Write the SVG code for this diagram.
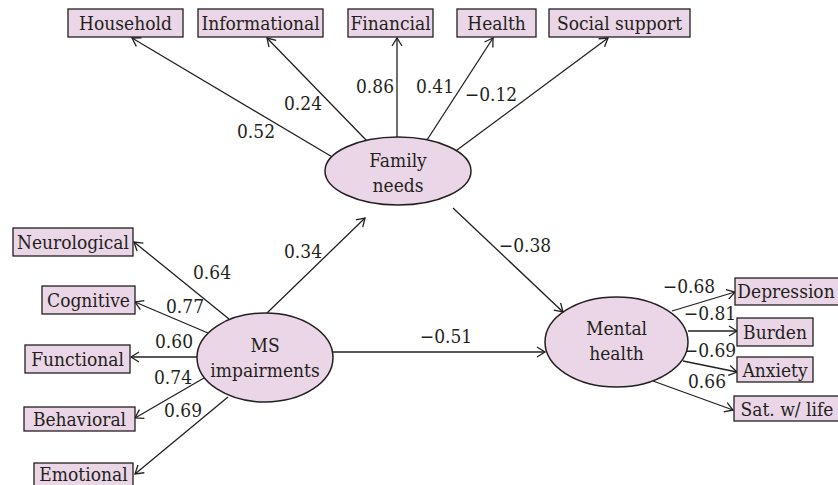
<svg xmlns="http://www.w3.org/2000/svg" width="838" height="485" viewBox="0 0 838 485">
<defs>
<marker id="ah" markerUnits="userSpaceOnUse" markerWidth="20" markerHeight="20" viewBox="-10 -10 20 20" refX="0" refY="0" orient="auto">
<path d="M-8,-5 L0,0 L-8,5" fill="none" stroke="#231F20" stroke-width="1.3"/>
</marker>
</defs>
<style>
.box{fill:#EAD6E6;stroke:#231F20;stroke-width:1.3}
.ell{fill:#EAD6E6;stroke:#231F20;stroke-width:1.5}
text{font-family:'DejaVu Serif Condensed','DejaVu Serif',serif;font-stretch:condensed;font-size:19px;fill:#231F20}
.c{text-anchor:middle}
.con line{stroke:#231F20;stroke-width:1.3;marker-end:url(#ah)}
</style>
<rect width="838" height="485" fill="#ffffff"/>
<g class="con" id="connectors">
<line x1="334" y1="158" x2="132" y2="38"/>
<line x1="367" y1="141" x2="267" y2="38"/>
<line x1="397" y1="137" x2="397" y2="38"/>
<line x1="427" y1="140" x2="493" y2="38"/>
<line x1="453" y1="153" x2="608" y2="38"/>
<line x1="229" y1="319" x2="134" y2="242"/>
<line x1="208" y1="333" x2="135" y2="302"/>
<line x1="197" y1="357" x2="131" y2="357"/>
<line x1="204" y1="378" x2="135" y2="418"/>
<line x1="228" y1="397" x2="135" y2="474"/>
<line x1="267" y1="313" x2="365" y2="218"/>
<line x1="333" y1="352" x2="545" y2="352"/>
<line x1="453" y1="208" x2="563" y2="312"/>
<line x1="672" y1="311" x2="735" y2="292"/>
<line x1="688" y1="331" x2="737" y2="331"/>
<line x1="683" y1="361" x2="737" y2="372"/>
<line x1="653" y1="381" x2="733" y2="410"/>
</g>
<g id="labels">
<text x="256" y="138" class="c">0.52</text>
<text x="303" y="110" class="c">0.24</text>
<text x="375" y="93" class="c">0.86</text>
<text x="435" y="93" class="c">0.41</text>
<text x="491" y="101" class="c">−0.12</text>
<text x="212" y="279" class="c">0.64</text>
<text x="185" y="313" class="c">0.77</text>
<text x="174" y="348" class="c">0.60</text>
<text x="173" y="384" class="c">0.74</text>
<text x="183" y="417" class="c">0.69</text>
<text x="303" y="258" class="c">0.34</text>
<text x="446" y="343" class="c">−0.51</text>
<text x="525" y="252" class="c">−0.38</text>
<text x="689" y="293" class="c">−0.68</text>
<text x="710" y="320" class="c">−0.81</text>
<text x="710" y="357" class="c">−0.69</text>
<text x="707" y="388" class="c">0.66</text>
</g>
<g id="household"><rect class="box" x="68" y="9" width="115" height="28"/><text x="125.5" y="30" class="c">Household</text></g>
<g id="informational"><rect class="box" x="198" y="9" width="125" height="28"/><text x="260.5" y="30" class="c">Informational</text></g>
<g id="financial"><rect class="box" x="348" y="9" width="85" height="28"/><text x="390.5" y="30" class="c">Financial</text></g>
<g id="health"><rect class="box" x="457" y="9" width="79" height="28"/><text x="496.5" y="30" class="c">Health</text></g>
<g id="social-support"><rect class="box" x="549" y="9" width="141" height="28"/><text x="619.5" y="30" class="c">Social support</text></g>
<g id="family-needs"><ellipse class="ell" cx="398" cy="171" rx="73" ry="34"/><text x="398" y="167" class="c">Family</text><text x="398" y="192" class="c">needs</text></g>
<g id="neurological"><rect class="box" x="13" y="228" width="120" height="28"/><text x="73" y="249" class="c">Neurological</text></g>
<g id="cognitive"><rect class="box" x="42" y="286" width="93" height="28"/><text x="88.5" y="307" class="c">Cognitive</text></g>
<g id="functional"><rect class="box" x="25" y="345" width="105" height="28"/><text x="77.5" y="366" class="c">Functional</text></g>
<g id="behavioral"><rect class="box" x="24" y="407" width="111" height="24"/><text x="79.5" y="426" class="c">Behavioral</text></g>
<g id="emotional"><rect class="box" x="34" y="463" width="99" height="28"/><text x="83.5" y="481" class="c">Emotional</text></g>
<g id="ms-impairments"><ellipse class="ell" cx="265" cy="357.5" rx="68" ry="44.5"/><text x="265" y="352" class="c">MS</text><text x="265" y="377" class="c">impairments</text></g>
<g id="mental-health"><ellipse class="ell" cx="616.5" cy="342" rx="71.5" ry="45"/><text x="616.5" y="335" class="c">Mental</text><text x="616.5" y="360" class="c">health</text></g>
<g id="depression"><rect class="box" x="735" y="278" width="110" height="27"/><text x="786" y="298" class="c">Depression</text></g>
<g id="burden"><rect class="box" x="737" y="318" width="76" height="28"/><text x="775" y="339" class="c">Burden</text></g>
<g id="anxiety"><rect class="box" x="737" y="357" width="76" height="25"/><text x="775" y="377" class="c">Anxiety</text></g>
<g id="sat-life"><rect class="box" x="734" y="396" width="110" height="25"/><text x="787" y="416" class="c">Sat. w/ life</text></g>
</svg>
